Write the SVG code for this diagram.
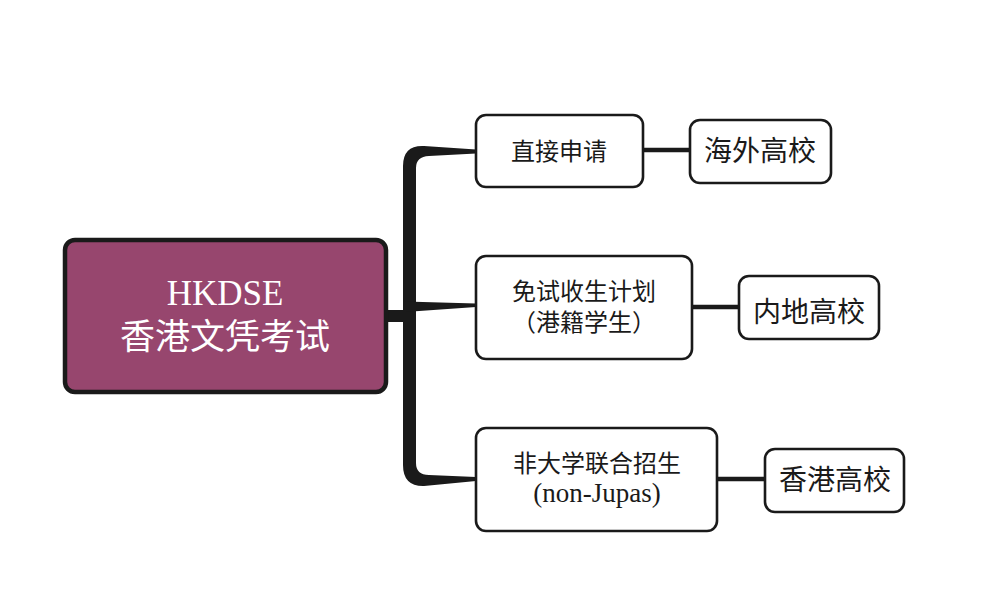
<svg xmlns="http://www.w3.org/2000/svg" width="1004" height="616" viewBox="0 0 1004 616">
<style>
.box{fill:#ffffff;stroke:#1a1a1a;stroke-width:2.6}
.root{fill:#97466e;stroke:#1a1a1a;stroke-width:4.5}
.t{font-family:"Liberation Serif","Noto Sans CJK SC",serif;fill:#1a1a1a;text-anchor:middle}
.cjk{font-family:"Noto Sans CJK SC",sans-serif;fill:#1a1a1a;text-anchor:middle}
.rt{font-family:"Liberation Serif","Noto Sans CJK SC",serif;fill:#ffffff;text-anchor:middle;font-size:35px}
.c{fill:#1a1a1a}
.l{stroke:#1a1a1a;stroke-width:4.5;fill:none}
</style>
<rect width="1004" height="616" fill="#ffffff"/>
<g id="connectors">
<rect class="c" x="384" y="310" width="22" height="12"/>
<path class="c" d="M403 166 Q403 145 424 146 L476 149.5 L476 153.5 L429 156 Q416 156.5 416 168 L416 463 Q416 475 429 475 L476 477 L476 481 L424 486 Q403 486.5 403 465 Z"/>
<path class="c" d="M405 301.5 L476 303.5 L476 307 L405 312 Z"/>
<line class="l" x1="642" y1="150" x2="691" y2="150"/>
<line class="l" x1="691" y1="307" x2="740" y2="307"/>
<line class="l" x1="717" y1="479" x2="766" y2="479"/>
</g>
<g id="root">
<rect class="root" x="65" y="240" width="321" height="152" rx="10"/>
<text class="rt" x="225" y="305">HKDSE</text>
<text class="rt" x="225" y="349">香港文凭考试</text>
</g>
<g id="n1">
<rect class="box" x="476" y="115" width="167" height="72" rx="10"/>
<text class="cjk" x="559" y="160" font-size="24">直接申请</text>
</g>
<g id="n2">
<rect class="box" x="476" y="256" width="216" height="103" rx="10"/>
<text class="cjk" x="584" y="300" font-size="24">免试收生计划</text>
<text class="cjk" x="584" y="331" font-size="24">（港籍学生）</text>
</g>
<g id="n3">
<rect class="box" x="476" y="428" width="241" height="103" rx="10"/>
<text class="cjk" x="597" y="472" font-size="24">非大学联合招生</text>
<text class="t" x="597" y="502" font-size="27">(non-Jupas)</text>
</g>
<g id="n1b">
<rect class="box" x="690" y="120" width="141" height="63" rx="10"/>
<text class="cjk" x="760" y="161" font-size="28">海外高校</text>
</g>
<g id="n2b">
<rect class="box" x="739" y="276" width="140" height="63" rx="10"/>
<text class="cjk" x="809" y="322" font-size="28">内地高校</text>
</g>
<g id="n3b">
<rect class="box" x="765" y="449" width="139" height="63" rx="10"/>
<text class="cjk" x="835" y="490" font-size="28">香港高校</text>
</g>
</svg>
